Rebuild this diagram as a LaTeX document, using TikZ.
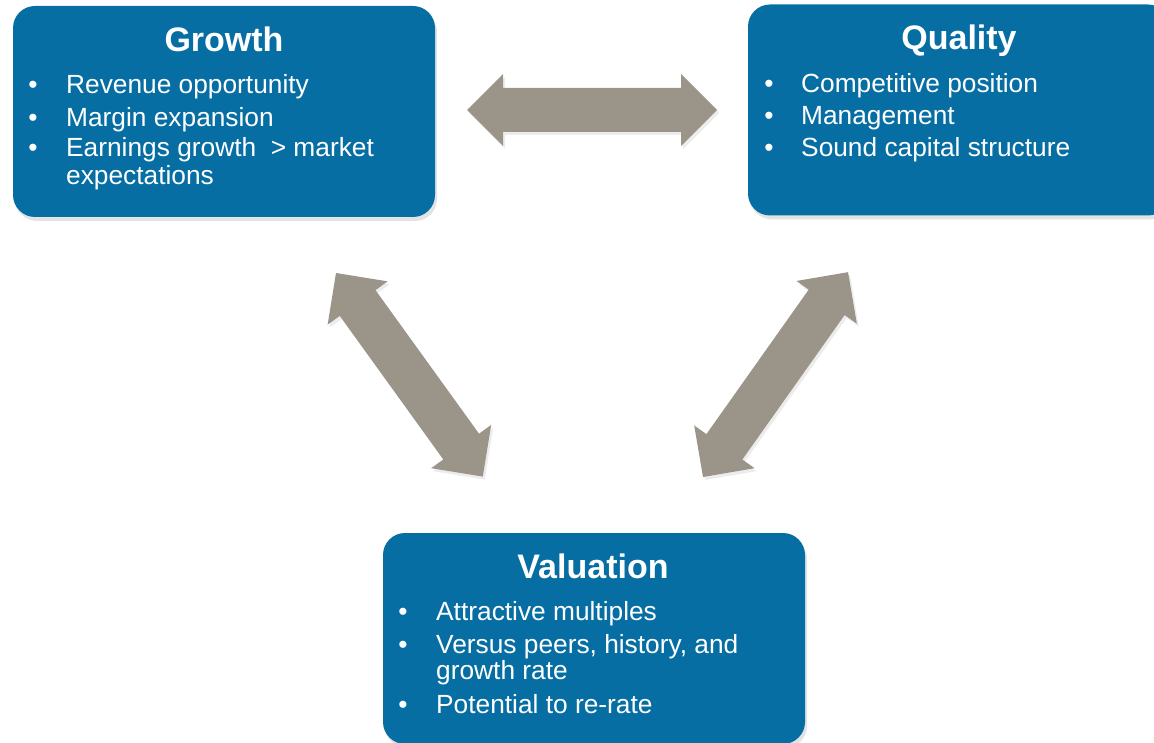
\documentclass[tikz,border=0pt]{standalone}
\usepackage{fontspec}
\setmainfont{Liberation Sans}
\usetikzlibrary{shadows}
\definecolor{boxblue}{RGB}{6,110,163}
\definecolor{arrgrey}{RGB}{155,148,137}
\begin{document}
\begin{tikzpicture}[x=1pt,y=-1pt,
  card/.style={rectangle, fill=boxblue, rounded corners=22pt, minimum width=422pt, minimum height=211pt, inner sep=0pt,
    drop shadow={shadow xshift=2pt, shadow yshift=-4pt, opacity=0.22}},
  ttl/.style={text=white, font=\fontsize{34}{40}\selectfont\bfseries, anchor=base, inner sep=0pt},
  itm/.style={text=white, font=\fontsize{26.3}{30}\selectfont, anchor=base west, inner sep=0pt},
  bul/.style={text=white, font=\fontsize{26.3}{30}\selectfont, anchor=base, inner sep=0pt},
  barrow/.style={fill=arrgrey, drop shadow={shadow xshift=2pt, shadow yshift=-3pt, opacity=0.15}}
]
\useasboundingbox (0,0) rectangle (1154,743);
\clip (0,0) rectangle (1154,743);

% arrows
\coordinate (gqtip) at (467,110);
\coordinate (gvtip) at (336,273);
\coordinate (qvtip) at (703,477);
\path[barrow, shift={(gqtip)}, rotate=0]
  (0,0) -- (36,-36) -- (36,-22) -- (214,-22) -- (214,-36) -- (250,0) -- (214,36) -- (214,22) -- (36,22) -- (36,36) -- cycle;
\path[barrow, shift={(gvtip)}, rotate=-54.2]
  (0,0) -- (37,-37) -- (37,-22) -- (214,-22) -- (214,-37) -- (251,0) -- (214,37) -- (214,22) -- (37,22) -- (37,37) -- cycle;
\path[barrow, shift={(qvtip)}, rotate=54.7]
  (0,0) -- (37,-37) -- (37,-22) -- (214,-22) -- (214,-37) -- (251,0) -- (214,37) -- (214,22) -- (37,22) -- (37,37) -- cycle;

% boxes
\node[card] (growth) at (224,111.5) {};
\node[card] (quality) at (959,110) {};
\node[card] (valuation) at (594,638.5) {};

% Growth text
\node[ttl] (gt) at (224,52) {Growth};
\node[bul] (gb1) at (33,94) {•};
\node[itm] (g1) at (66,94) {Revenue opportunity};
\node[bul] (gb2) at (33,127) {•};
\node[itm] (g2) at (66,127) {Margin expansion};
\node[bul] (gb3) at (33,157) {•};
\node[itm] (g3) at (66,157) {Earnings growth\ \ > market};
\node[itm] (g3b) at (66,185) {expectations};

% Quality text
\node[ttl] (qt) at (959,50) {Quality};
\node[bul] (qb1) at (769,93) {•};
\node[itm] (q1) at (801,93) {Competitive position};
\node[bul] (qb2) at (769,125) {•};
\node[itm] (q2) at (801,125) {Management};
\node[bul] (qb3) at (769,157) {•};
\node[itm] (q3) at (801,157) {Sound capital structure};

% Valuation text
\node[ttl] (vt) at (593,578) {Valuation};
\node[bul] (vb1) at (403,620) {•};
\node[itm] (v1) at (436,620) {Attractive multiples};
\node[bul] (vb2) at (403,653) {•};
\node[itm] (v2) at (436,653) {Versus peers, history, and};
\node[itm] (v2b) at (436,679) {growth rate};
\node[bul] (vb3) at (403,713) {•};
\node[itm] (v3) at (436,713) {Potential to re-rate};
\end{tikzpicture}
\end{document}
